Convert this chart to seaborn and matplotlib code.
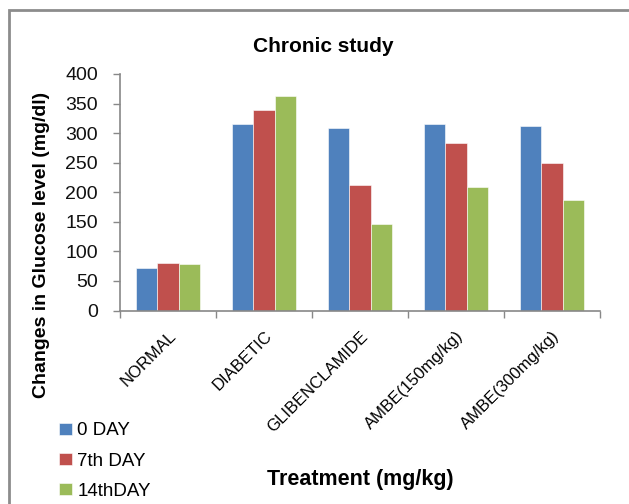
import matplotlib
matplotlib.use("Agg")
import matplotlib.pyplot as plt
import matplotlib.patches as mpatches
from matplotlib.ticker import FixedLocator
import seaborn as sns
import pandas as pd
import numpy as np

categories = ["NORMAL", "DIABETIC", "GLIBENCLAMIDE", "AMBE(150mg/kg)", "AMBE(300mg/kg)"]
series_names = ["0 DAY", "7th DAY", "14thDAY"]
day0 = [72, 315, 308, 315, 312]
day7 = [81, 339, 212, 283, 250]
day14 = [79, 363, 146, 209, 187]
colors = ["#4F81BD", "#C0504D", "#9BBB59"]

rows = []
for name, vals in zip(series_names, [day0, day7, day14]):
    for c, v in zip(categories, vals):
        rows.append({"Treatment": c, "Series": name, "Value": v})
df = pd.DataFrame(rows)

sns.set_theme(style="white")
fam = ["Liberation Sans", "DejaVu Sans"]
plt.rcParams["font.family"] = fam
plt.rcParams["text.color"] = "black"

fig = plt.figure(figsize=(6.29, 5.04), dpi=100)
ax = fig.add_axes([120/629, 1-310.5/504, 480/629, (310.5-74)/504])

sns.barplot(data=df, x="Treatment", y="Value", hue="Series", palette=colors,
            width=0.667, ax=ax, saturation=1, edgecolor="white", linewidth=0.4,
            legend=True)

ax.set_ylim(0, 400)
ax.set_xlim(-0.5, 4.5)
ax.set_yticks(np.arange(0, 401, 50))
ax.tick_params(axis="y", which="major", length=5, width=1, color="#888888",
               labelsize=14, pad=11, left=True, direction="out", labelcolor="#111111")
ax.tick_params(axis="x", which="major", length=0, labelsize=12, pad=13,
               labelcolor="black")
ax.xaxis.set_minor_locator(FixedLocator(np.arange(-0.5, 4.6, 1)))
ax.tick_params(axis="x", which="minor", length=5, width=1, color="#888888",
               bottom=True, direction="out")
plt.setp(ax.get_xticklabels(), rotation=45, ha="right", rotation_mode="anchor")

for s in ["top", "right"]:
    ax.spines[s].set_visible(False)
for s in ["left", "bottom"]:
    ax.spines[s].set_color("#888888")
    ax.spines[s].set_linewidth(1.2)

ax.set_xlabel("")
ax.set_ylabel("")
fig.text(42/629, 1-245/504, "Changes in Glucose level (mg/dl)", rotation=90,
         ha="center", va="center", fontsize=14, fontweight="bold", family=fam)
fig.text(360/629, 1-480/504, "Treatment (mg/kg)", ha="center", va="center",
         fontsize=15.5, fontweight="bold", family=fam)
fig.text(323/629, 1-46/504, "Chronic study", ha="center", va="center",
         fontsize=15, fontweight="bold", family=fam)

handles, labels = ax.get_legend_handles_labels()
ax.get_legend().remove()
fig.legend(handles, labels, loc="upper left", bbox_to_anchor=(50/629, 1-413/504),
           frameon=False, fontsize=13.5, handlelength=0.65, handleheight=0.65,
           handletextpad=0.3, labelspacing=0.7, borderpad=0)

frame = mpatches.Rectangle((9/629, -0.2), 1.2, 1.2 - 10/504, transform=fig.transFigure,
                           fill=False, edgecolor="#8c8c8c", linewidth=2, clip_on=False)
fig.patches.append(frame)

fig.savefig("out.png", dpi=100)
